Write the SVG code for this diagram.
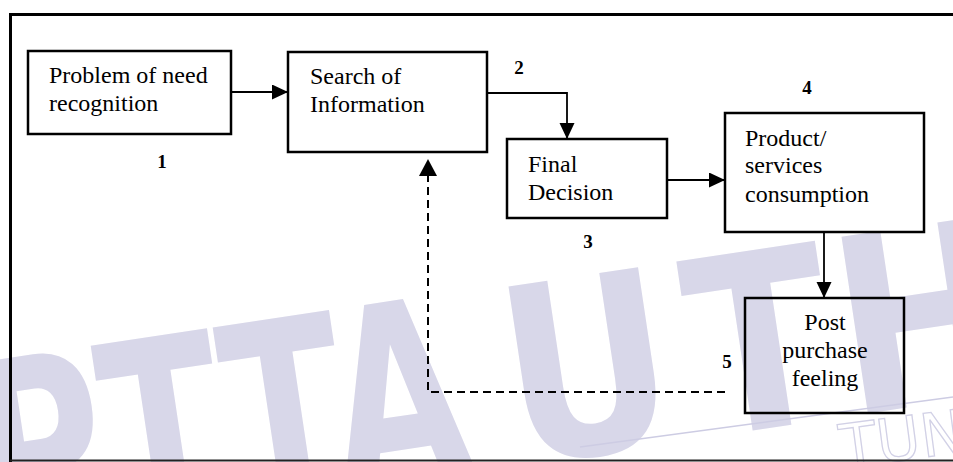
<svg xmlns="http://www.w3.org/2000/svg" width="953" height="462" viewBox="0 0 953 462">
  <defs>
    <marker id="arr" markerUnits="userSpaceOnUse" markerWidth="18" markerHeight="16" refX="16" refY="7.5" orient="auto">
      <path d="M0,0 L16,7.5 L0,15 Z" fill="#000"/>
    </marker>
    <marker id="arrD" markerUnits="userSpaceOnUse" markerWidth="19" markerHeight="19" refX="17" refY="9" orient="auto">
      <path d="M0,0 L17,9 L0,18 Z" fill="#000"/>
    </marker>
    <style>
      .box { fill: none; stroke: #000; stroke-width: 2.5; }
      .lbl { font-family: "Liberation Serif", "Times New Roman", serif; font-size: 24px; fill: #000; }
      .num { font-family: "Liberation Serif", "Times New Roman", serif; font-size: 19px; font-weight: bold; fill: #000; text-anchor: middle; }
      .conn { fill: none; stroke: #000; stroke-width: 1.8; }
      .dash { fill: none; stroke: #000; stroke-width: 2; stroke-dasharray: 8 5; }
      .wm { font-family: "DejaVu Sans", sans-serif; font-weight: bold; fill: #d8d7e9; }
      .wm2 { font-family: "DejaVu Sans", sans-serif; fill: none; stroke: #d2d1e6; stroke-width: 1.3; }
    </style>
  </defs>
  <rect width="953" height="462" fill="#fff"/>

  <g id="watermark">
    <text class="wm" font-size="250" transform="translate(-10,545) rotate(-8.5) scale(0.7,1)">PTTA</text>
    <text class="wm" font-size="245" transform="translate(516,466) rotate(-8.5) scale(0.85,1)">U<tspan dx="22">T</tspan><tspan dx="8">HM</tspan></text>
    <line x1="580" y1="447" x2="953" y2="397" stroke="#cdcce3" stroke-width="1.5"/>
    <text class="wm2" font-size="60" transform="translate(843,468) rotate(-7.5)">TUN</text>
  </g>

  <g id="frame" fill="none" stroke="#000">
    <line x1="9" y1="14.5" x2="953" y2="14.5" stroke-width="3"/>
    <line x1="10.5" y1="13" x2="10.5" y2="462" stroke-width="3"/>
    <line x1="10" y1="460.5" x2="953" y2="460.5" stroke-width="2" stroke="#222"/>
  </g>

  <g id="connectors">
    <line class="conn" x1="231" y1="92" x2="288" y2="92" marker-end="url(#arr)"/>
    <polyline class="conn" points="487,93 567,93 567,139" marker-end="url(#arr)"/>
    <line class="conn" x1="667" y1="180" x2="725" y2="180" marker-end="url(#arr)"/>
    <line class="conn" x1="824" y1="232" x2="824" y2="298" marker-end="url(#arr)"/>
    <polyline class="dash" points="725,392 428,392 428,159" marker-end="url(#arrD)"/>
  </g>

  <g id="node1">
    <rect class="box" x="28" y="51" width="203" height="83"/>
    <text class="lbl" x="49" y="83">Problem of need</text>
    <text class="lbl" x="49" y="111">recognition</text>
    <text class="num" x="162" y="168">1</text>
  </g>

  <g id="node2">
    <rect class="box" x="288" y="52" width="199" height="100"/>
    <text class="lbl" x="310" y="84">Search of</text>
    <text class="lbl" x="310" y="112">Information</text>
    <text class="num" x="519" y="74">2</text>
  </g>

  <g id="node3">
    <rect class="box" x="507" y="139" width="160" height="79"/>
    <text class="lbl" x="528" y="172">Final</text>
    <text class="lbl" x="528" y="200">Decision</text>
    <text class="num" x="588" y="248">3</text>
  </g>

  <g id="node4">
    <rect class="box" x="725" y="113" width="199" height="119"/>
    <text class="lbl" x="745" y="146">Product/</text>
    <text class="lbl" x="745" y="173">services</text>
    <text class="lbl" x="745" y="202">consumption</text>
    <text class="num" x="807" y="94">4</text>
  </g>

  <g id="node5">
    <rect class="box" x="745" y="298" width="159" height="115"/>
    <text class="lbl" x="825" y="330" text-anchor="middle">Post</text>
    <text class="lbl" x="825" y="358" text-anchor="middle">purchase</text>
    <text class="lbl" x="825" y="386" text-anchor="middle">feeling</text>
    <text class="num" x="727" y="368">5</text>
  </g>
</svg>
